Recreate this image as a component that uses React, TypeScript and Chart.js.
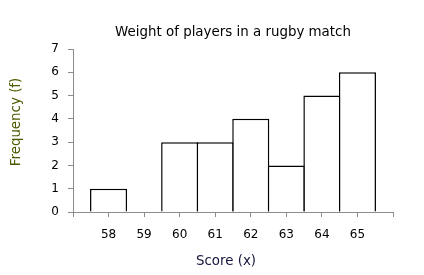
import React, { useEffect, useRef } from "react";
import { Chart, registerables } from "chart.js";

Chart.register(...registerables);

const TITLE = "Weight of players in a rugby match";
const X_TITLE = "Score (x)";
const Y_TITLE = "Frequency (f)";
const scores = [58, 59, 60, 61, 62, 63, 64, 65];
const frequencies = [1, 0, 3, 3, 4, 2, 5, 6];
const X_MIN = 57;
const X_MAX = 66;
const Y_MIN = 0;
const Y_MAX = 7;

const FONT = "'DejaVu Sans', Verdana, sans-serif";
const BORDER = 1.5;

const texts = {
  id: "texts",
  afterDraw(chart: any) {
    const ctx = chart.ctx;
    const area = chart.chartArea;
    const cx = (area.left + area.right) / 2;
    ctx.save();
    ctx.font = `13.4px ${FONT}`;
    ctx.textAlign = "center";
    ctx.textBaseline = "middle";
    ctx.fillStyle = "#000000";
    ctx.fillText(TITLE, cx, 32.5);
    ctx.fillStyle = "#14143c";
    ctx.fillText(X_TITLE, cx - 7, 262);
    ctx.fillStyle = "#4f5a00";
    ctx.translate(16.5, 122);
    ctx.rotate(-Math.PI / 2);
    ctx.fillText(Y_TITLE, 0, 0);
    ctx.restore();
  },
};

export default function App() {
  const ref = useRef<HTMLCanvasElement>(null);
  useEffect(() => {
    if (!ref.current) return;
    const chart = new Chart(ref.current, {
      type: "bar",
      data: {
        datasets: [
          {
            data: scores.map((s, i) => ({ x: s, y: frequencies[i] === 0 ? null : frequencies[i] })) as any,
            backgroundColor: "#ffffff",
            borderColor: "#000000",
            borderWidth: BORDER,
            barPercentage: 1 + BORDER / 35.5,
            categoryPercentage: 1,
            borderSkipped: "start",
            inflateAmount: 0,
          },
        ],
      },
      options: {
        responsive: false,
        animation: false,
        layout: { padding: { left: 0, right: 31, top: 49, bottom: 0 } },
        plugins: {
          legend: { display: false },
          tooltip: { enabled: false },
          title: { display: false },
        },
        scales: {
          x: {
            type: "linear",
            min: X_MIN,
            max: X_MAX,
            offset: false,
            grid: { drawOnChartArea: false, tickLength: 5, color: "#8c8c8c", offset: false },
            border: { display: true, color: "#8c8c8c" },
            ticks: {
              stepSize: 1,
              autoSkip: false,
              maxRotation: 0,
              padding: 11,
              color: "#000000",
              font: { family: FONT, size: 12 },
              callback: (v: any) => (scores.includes(Number(v)) ? String(v) : ""),
            },
            afterFit: (scale: any) => {
              scale.height = 63;
            },
          },
          y: {
            min: Y_MIN,
            max: Y_MAX,
            grid: { drawOnChartArea: false, tickLength: 5, color: "#8c8c8c" },
            border: { display: true, color: "#8c8c8c" },
            ticks: {
              stepSize: 1,
              padding: 9,
              color: "#000000",
              font: { family: FONT, size: 12 },
            },
            afterFit: (scale: any) => {
              scale.width = 73;
            },
          },
        },
      },
      plugins: [texts],
    });
    return () => chart.destroy();
  }, []);
  return (
    <div style={{ position: "absolute", left: 0, top: 0, width: 424, height: 275, background: "#fff" }}>
      <canvas ref={ref} width={424} height={275} />
    </div>
  );
}
